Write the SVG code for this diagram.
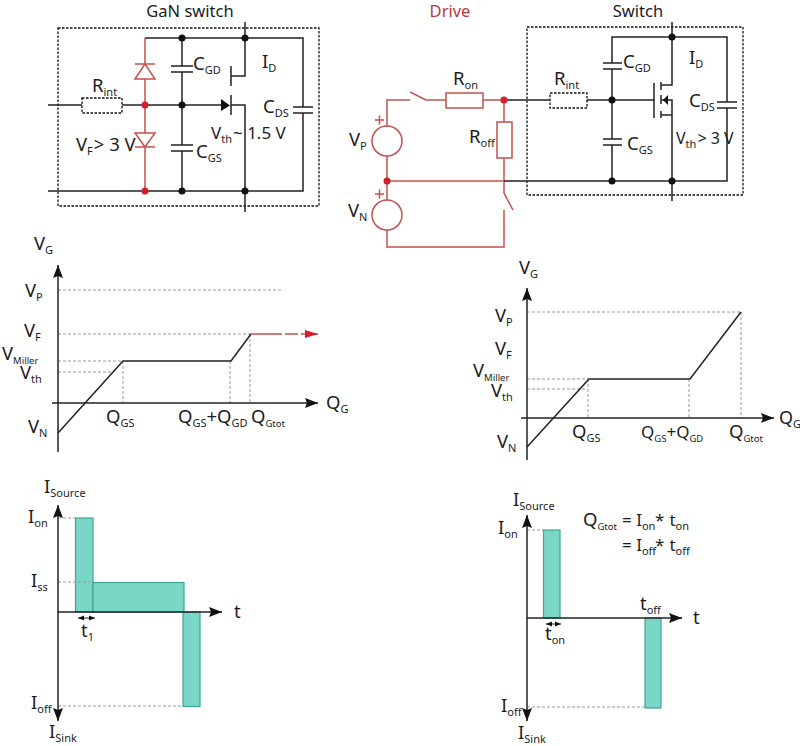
<svg xmlns="http://www.w3.org/2000/svg" width="800" height="746" viewBox="0 0 800 746">
<style>
text{font-family:"Noto Sans","Open Sans",sans-serif;font-size:18.500px;fill:#1c1c1c}
.s{font-size:11px}
.m{font-size:9.500px}
.ti{font-size:16.500px}
.sm{font-size:17px}
.rt{fill:#b5393c}
.w{fill:none;stroke:#222;stroke-width:1.5}
.r{fill:none;stroke:#c4514f;stroke-width:1.5}
.box{fill:none;stroke:#111;stroke-width:1.3;stroke-dasharray:2.500 1.500}
.res{fill:#fff;stroke:#111;stroke-width:1.3;stroke-dasharray:2.500 1.500}
.rb{fill:#fff;stroke:#c4514f;stroke-width:1.5}
.n{fill:#111}
.nr{fill:#d1202a}
.g{fill:none;stroke:#999;stroke-width:1;stroke-dasharray:3 2}
.ax{fill:none;stroke:#222;stroke-width:1.5}
.thin{fill:none;stroke:#222;stroke-width:1}
.bar{fill:#7ad6c6;stroke:#3fa596;stroke-width:1.2}
.k{fill:#111}
</style>
<defs>
<marker id="a" markerUnits="userSpaceOnUse" markerWidth="14" markerHeight="12" refX="13" refY="6" orient="auto-start-reverse"><path d="M0 1L13 6L0 11L2 6Z" fill="#111"/></marker>
<marker id="b" markerUnits="userSpaceOnUse" markerWidth="6" markerHeight="6" refX="6" refY="3" orient="auto-start-reverse"><path d="M0 .5L6 3L0 5.500Z" fill="#111"/></marker>
<marker id="c" markerUnits="userSpaceOnUse" markerWidth="14" markerHeight="12" refX="13" refY="6" orient="auto"><path d="M0 2L13 6L0 10Z" fill="#d1202a"/></marker>
</defs>

<g id="gan-switch">
<rect class="box" x="58" y="28" width="261" height="178"/>
<text class="ti" x="190" y="17" text-anchor="middle">GaN switch</text>
</g>
<g id="gan-connectors">
<path class="w" d="M145 38H303V107M303 113V191H48M48 105H82M122 105H222M231 105H245V212M245 22V76H231M182 38V66M182 72V145M182 151V191"/>
<path class="w" d="M231 66V86M231 95V115M171 66H193M171 72H193M171 145H193M171 151H193M293 107H313M293 113H313"/>
<path class="r" d="M145 38V64M145 79V133M145 147V191M135 64H155M145 64L135 79H155ZM135 147H155M145 147L135 133H155Z"/>
</g>
<g id="gan-rint"><rect class="res" x="82" y="98" width="40" height="15"/><text x="92" y="92">R<tspan class="s" dy="4">int</tspan></text></g>
<g id="gan-fet"><path class="k" d="M221 99L230 105.500L221 111Z"/><text x="262" y="68">I<tspan class="s" dy="4">D</tspan></text><text class="sm" x="211" y="139">V<tspan class="s" dy="4">th</tspan><tspan dy="-4" dx="1">~ 1.5 V</tspan></text></g>
<g id="gan-caps"><text x="193" y="70">C<tspan class="s" dy="4">GD</tspan></text><text x="196" y="158">C<tspan class="s" dy="4">GS</tspan></text><text x="263" y="113">C<tspan class="s" dy="4">DS</tspan></text><text x="76" y="151">V<tspan class="s" dy="4">F</tspan><tspan dy="-4" dx="1">&gt; 3 V</tspan></text></g>
<g id="gan-nodes">
<circle class="n" cx="182" cy="38" r="3.500"/><circle class="n" cx="245" cy="38" r="3.500"/><circle class="n" cx="182" cy="105" r="3.500"/><circle class="n" cx="182" cy="191" r="3.500"/><circle class="n" cx="245" cy="191" r="3.500"/><circle class="nr" cx="145" cy="105" r="3.500"/><circle class="nr" cx="145" cy="191" r="3.500"/>
</g>

<g id="drive">
<text class="ti rt" x="450" y="17" text-anchor="middle">Drive</text>
<path class="r" d="M387 126V100H410M410 92L426 100H446M483 100H504V122M504 158V193L513 210M504 210V247H387V230M387 200V156M387 181H504"/>
<circle class="r" cx="387" cy="141" r="15"/><circle class="r" cx="387" cy="215" r="15"/>
<rect class="rb" x="446" y="93" width="37" height="15"/><rect class="rb" x="497" y="122" width="15" height="36"/>
<path class="r" d="M375 120H384M379.500 115.500V124.500M375 194H384M379.500 189.500V198.500"/>
<text x="349" y="146">V<tspan class="s" dy="4">P</tspan></text><text x="348" y="217">V<tspan class="s" dy="4">N</tspan></text>
<text x="453" y="85">R<tspan class="s" dy="4">on</tspan></text><text x="469" y="143">R<tspan class="s" dy="4">off</tspan></text>
</g>
<g id="switch">
<rect class="box" x="527" y="27" width="216" height="168"/>
<text class="ti" x="638" y="17" text-anchor="middle">Switch</text>
</g>
<g id="switch-connectors">
<path class="w" d="M504 100H550M587 100H654M504 181H727V108M727 102V37H612V63M612 69V139M612 145V181"/>
<path class="w" d="M603 63H622M603 69H622M603 139H622M603 145H622M717 102H737M717 108H737"/>
<path class="w" d="M672 22V85H661M661 100H672V115M661 115H672V201M654 83V118M661 82V90M661 95V104M661 111V118"/>
<path class="k" d="M663 100L668 95V105Z"/>
</g>
<g id="switch-rint"><rect class="res" x="550" y="93" width="37" height="15"/><text x="554" y="85">R<tspan class="s" dy="4">int</tspan></text></g>
<g id="switch-labels"><text x="623" y="68">C<tspan class="s" dy="4">GD</tspan></text><text x="627" y="150">C<tspan class="s" dy="4">GS</tspan></text><text x="689" y="64">I<tspan class="s" dy="4">D</tspan></text><text x="689" y="107">C<tspan class="s" dy="4">DS</tspan></text><text x="676" y="144" style="font-size:16px">V<tspan class="s" dy="4">th</tspan><tspan dy="-4" dx="1">&gt; 3 V</tspan></text></g>
<g id="switch-nodes">
<circle class="n" cx="672" cy="37" r="3.500"/><circle class="n" cx="612" cy="100" r="3.500"/><circle class="n" cx="612" cy="181" r="3.500"/><circle class="n" cx="672" cy="181" r="3.500"/><circle class="nr" cx="504" cy="100" r="3.500"/><circle class="nr" cx="387" cy="181" r="3.500"/>
</g>

<g id="chart-gan-vg">
<path class="g" d="M58 290H281M58 334H251M58 361H123M58 372H113M123 361V403M230 361V403M250 334V403"/>
<path class="ax" d="M58 452V265" marker-end="url(#a)"/><path class="ax" d="M52 403H318" marker-end="url(#a)"/>
<path class="w" d="M58 433L123 361H231L251 334"/>
<path class="r" d="M251 334H282"/><path class="r" d="M285 334H298M301 334H318" marker-end="url(#c)"/>
<text x="34" y="250">V<tspan class="s" dy="4">G</tspan></text><text x="25" y="297">V<tspan class="s" dy="4">P</tspan></text><text x="24" y="337">V<tspan class="s" dy="4">F</tspan></text><text x="2" y="360">V<tspan class="m" dy="4">Miller</tspan></text><text x="20" y="379">V<tspan class="s" dy="4">th</tspan></text><text x="28" y="433">V<tspan class="s" dy="4">N</tspan></text>
<text x="326" y="409">Q<tspan class="s" dy="4">G</tspan></text><text x="106" y="423">Q<tspan class="s" dy="4">GS</tspan></text><text x="178" y="423">Q<tspan class="s" dy="4">GS</tspan><tspan dy="-4">+Q</tspan><tspan class="s" dy="4">GD</tspan></text><text x="251" y="423">Q<tspan class="m" dy="4">Gtot</tspan></text>
</g>

<g id="chart-switch-vg">
<path class="g" d="M527 312H741M527 379H589M527 389H585M588 379V418M689 379V418M741 312V418"/>
<path class="ax" d="M527 460V288" marker-end="url(#a)"/><path class="ax" d="M521 418H774" marker-end="url(#a)"/>
<path class="w" d="M527 447L589 379H690L741 312"/>
<text x="519" y="274">V<tspan class="s" dy="4">G</tspan></text><text x="495" y="322">V<tspan class="s" dy="4">P</tspan></text><text x="495" y="355">V<tspan class="s" dy="4">F</tspan></text><text x="473" y="377">V<tspan class="m" dy="4">Miller</tspan></text><text x="491" y="397">V<tspan class="s" dy="4">th</tspan></text><text x="497" y="448">V<tspan class="s" dy="4">N</tspan></text>
<text x="779" y="424" style="font-size:18px">Q<tspan class="s" dy="4">G</tspan></text><text x="572" y="438">Q<tspan class="s" dy="4">GS</tspan></text><text class="sm" x="641" y="438">Q<tspan class="m" dy="4">GS</tspan><tspan dy="-4">+Q</tspan><tspan class="m" dy="4">GD</tspan></text><text x="729" y="438">Q<tspan class="m" dy="4">Gtot</tspan></text>
</g>

<g id="chart-gan-i">
<rect class="bar" x="75.500" y="518" width="17.500" height="94"/><rect class="bar" x="93" y="582.500" width="91" height="29.500"/><rect class="bar" x="183" y="612" width="17" height="94.500"/>
<path class="g" d="M58 518H75M58 582H93M58 706H183"/>
<path class="ax" d="M58 612V505" marker-end="url(#a)"/><path class="ax" d="M58 612V721" marker-end="url(#a)"/><path class="ax" d="M58 612H222" marker-end="url(#a)"/>
<path class="thin" d="M78 618H95" marker-start="url(#b)" marker-end="url(#b)"/>
<text x="44" y="493">I<tspan class="s" dy="4">Source</tspan></text><text x="28" y="523">I<tspan class="s" dy="4">on</tspan></text><text x="31" y="587">I<tspan class="s" dy="4">ss</tspan></text><text x="31" y="709">I<tspan class="s" dy="4">off</tspan></text><text x="49" y="738">I<tspan class="s" dy="4">Sink</tspan></text><text x="234" y="618">t</text><text x="81" y="637">t<tspan class="s" dy="4">1</tspan></text>
</g>

<g id="chart-switch-i">
<rect class="bar" x="543.500" y="530" width="16.500" height="88"/><rect class="bar" x="645" y="618" width="16" height="90"/>
<path class="g" d="M527 530H543M527 707H645"/>
<path class="ax" d="M527 618V515" marker-end="url(#a)"/><path class="ax" d="M527 618V721" marker-end="url(#a)"/><path class="ax" d="M527 618H682" marker-end="url(#a)"/>
<path class="thin" d="M546 624H561" marker-start="url(#b)" marker-end="url(#b)"/>
<text x="513" y="506">I<tspan class="s" dy="4">Source</tspan></text><text x="498" y="534">I<tspan class="s" dy="4">on</tspan></text><text x="501" y="712">I<tspan class="s" dy="4">off</tspan></text><text x="518" y="739">I<tspan class="s" dy="4">Sink</tspan></text>
<text x="693" y="624">t</text><text x="545" y="640">t<tspan class="s" dy="4">on</tspan></text><text x="640" y="610">t<tspan class="s" dy="4">off</tspan></text>
<text x="583" y="526">Q<tspan class="m" dy="4">Gtot</tspan></text><text class="sm" x="622" y="526">= I<tspan class="s" dy="4">on</tspan><tspan dy="-4" x="655">*</tspan><tspan x="665"> t</tspan><tspan class="s" dy="4">on</tspan></text><text class="sm" x="622" y="551">= I<tspan class="s" dy="4">off</tspan><tspan dy="-4" x="655">*</tspan><tspan x="665"> t</tspan><tspan class="s" dy="4">off</tspan></text>
</g>
</svg>
